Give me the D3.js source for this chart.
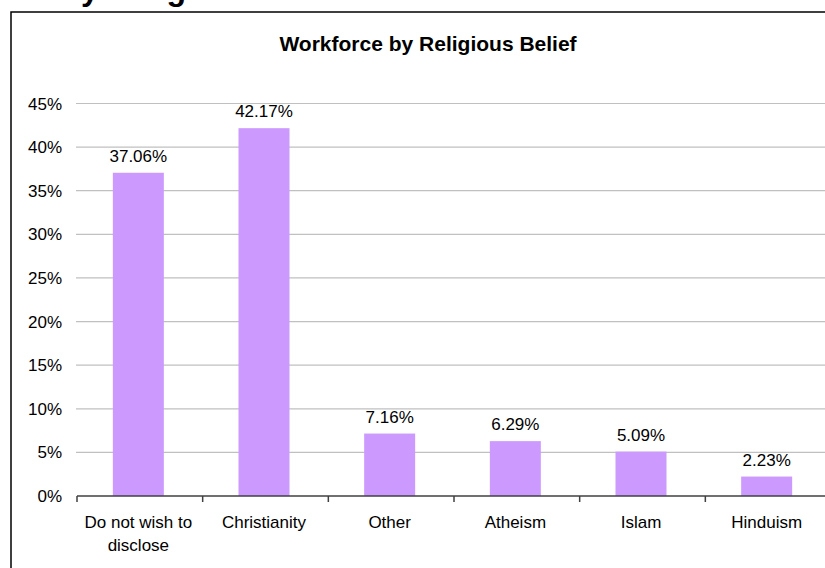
<!DOCTYPE html>
<html><head><meta charset="utf-8">
<script src="https://cdn.jsdelivr.net/npm/d3@7"></script>
<style>html,body{margin:0;padding:0;background:#fff;overflow:hidden}svg{display:block}</style>
</head><body>
<svg id="c" width="825" height="568"></svg>
<script>
const categories = ["Do not wish to disclose", "Christianity", "Other", "Atheism", "Islam", "Hinduism"];
const categoryLines = [["Do not wish to", "disclose"], ["Christianity"], ["Other"], ["Atheism"], ["Islam"], ["Hinduism"]];
const values = [37.06, 42.17, 7.16, 6.29, 5.09, 2.23];
const yTicks = [0, 5, 10, 15, 20, 25, 30, 35, 40, 45];
const chartTitle = "Workforce by Religious Belief";
const pageHeading = "Workforce by Religious Belief";

const svg = d3.select("#c");
const font = "Arial, 'Liberation Sans', sans-serif";

// cropped page heading at top (cut off in the original too)
svg.append("text").attr("x", -105).attr("y", 0).attr("font-family", font)
  .attr("font-size", 32).attr("font-weight", "bold").attr("fill", "#000").text(pageHeading);

// frame
svg.append("rect").attr("x", 11).attr("y", 12).attr("width", 900).attr("height", 700)
  .attr("fill", "#fff").attr("stroke", "#000").attr("stroke-width", 1.5);

const x = d3.scaleBand().domain(categories).range([77, 831]).paddingInner(0).paddingOuter(0);
const y = d3.scaleLinear().domain([0, 45]).range([496, 103.5]);

// gridlines
svg.append("g").selectAll("line").data(yTicks.filter(d => d > 0)).join("line")
  .attr("x1", 76).attr("x2", 831).attr("y1", d => y(d)).attr("y2", d => y(d))
  .attr("stroke", "#c0c0c0").attr("stroke-width", 1.2);

// y tick labels
svg.append("g").selectAll("text").data(yTicks).join("text")
  .attr("x", 62).attr("y", d => y(d) + 6).attr("text-anchor", "end")
  .attr("font-family", font).attr("font-size", 17).attr("fill", "#000")
  .text(d => d + "%");

// bars
const bw = 51;
const cx = c => x(c) + x.bandwidth() / 2 - 1.5;
svg.append("g").selectAll("rect").data(values).join("rect")
  .attr("x", (d, i) => cx(categories[i]) - bw / 2)
  .attr("width", bw)
  .attr("y", d => y(d)).attr("height", d => y(0) - y(d))
  .attr("fill", "#cc99ff");

// x axis
const xAxis = svg.append("g").attr("transform", `translate(0,${y(0)})`);
xAxis.append("line").attr("x1", 77).attr("x2", 831).attr("y1", 0).attr("y2", 0)
  .attr("stroke", "#404040").attr("stroke-width", 1.5);
const bounds = categories.map(c => x(c)).concat([x(categories[categories.length - 1]) + x.bandwidth()]);
xAxis.selectAll("line.tk").data(bounds).join("line").attr("class", "tk")
  .attr("x1", d => d).attr("x2", d => d).attr("y1", 0).attr("y2", 6)
  .attr("stroke", "#404040").attr("stroke-width", 1.5);

// x labels
const xl = svg.append("g").selectAll("text").data(categoryLines).join("text")
  .attr("text-anchor", "middle").attr("font-family", font).attr("font-size", 17).attr("fill", "#000")
  .attr("transform", (d, i) => `translate(${cx(categories[i])},0)`);
xl.selectAll("tspan").data(d => d).join("tspan")
  .attr("x", 0).attr("y", (d, j) => 528 + j * 23).text(d => d);

// value labels
svg.append("g").selectAll("text").data(values).join("text")
  .attr("x", (d, i) => cx(categories[i]))
  .attr("y", d => y(d) - 11).attr("text-anchor", "middle")
  .attr("font-family", font).attr("font-size", 17).attr("fill", "#000")
  .text(d => d.toFixed(2) + "%");

// chart title
svg.append("text").attr("x", 428).attr("y", 51).attr("text-anchor", "middle")
  .attr("font-family", font).attr("font-size", 21).attr("font-weight", "bold").attr("fill", "#000")
  .text(chartTitle);
</script>
</body></html>
